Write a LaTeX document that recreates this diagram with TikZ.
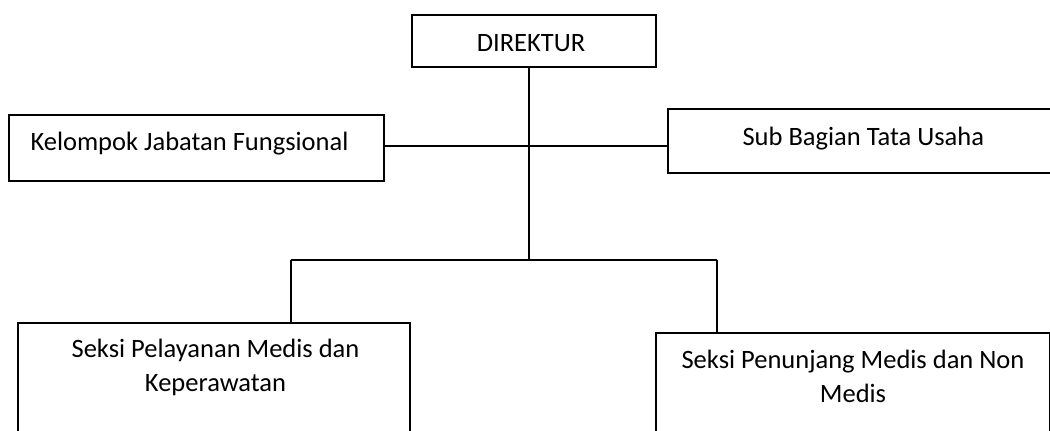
\documentclass[tikz,border=0pt]{standalone}
\usepackage{fontspec}
\setmainfont{Carlito}
\begin{document}
\begin{tikzpicture}[x=1pt,y=-1pt,
  box/.style={draw=black, line width=1.7pt, inner sep=0pt, anchor=north west, fill=none},
  lbl/.style={font=\fontsize{26.5}{34}\selectfont, inner sep=0pt, align=center, anchor=base},
  link/.style={draw=black, line width=1.7pt}]
\useasboundingbox (0,0) rectangle (1050,431);
\fill[white] (0,0) rectangle (1050,431);
\clip (0,0) rectangle (1050,431);
% boxes
\node[box, minimum width=244pt, minimum height=52pt] (dir) at (411,14) {};
\node[box, minimum width=375pt, minimum height=66pt] (kjf) at (8,114) {};
\node[box, minimum width=400pt, minimum height=64pt] (sbt) at (667,108) {};
\node[box, minimum width=392pt, minimum height=150pt] (spm) at (17,322) {};
\node[box, minimum width=394pt, minimum height=150pt] (spn) at (655,332) {};
% labels
\node[lbl] (dirt) at (531,51) {DIREKTUR};
\node[lbl] (kjft) at (189.5,150.7) {Kelompok Jabatan Fungsional};
\node[lbl] (sbtt) at (863.3,145) {Sub Bagian Tata Usaha};
\node[lbl] (spmt) at (215.5,391) {Seksi Pelayanan Medis dan\\Keperawatan};
\node[lbl] (spnt) at (853,402) {Seksi Penunjang Medis dan Non\\Medis};
% connectors
\coordinate (j) at (529,260);
\coordinate (jl) at (291,260);
\coordinate (jr) at (717,260);
\coordinate (h) at (529,146);
\draw[link] (dir.south -| j) -- (j);
\draw[link] (kjf.east |- h) -- (sbt.west |- h);
\draw[link] (jl) -- (jr);
\draw[link] (jl) -- (jl |- spm.north);
\draw[link] (jr) -- (jr |- spn.north);
\end{tikzpicture}
\end{document}
